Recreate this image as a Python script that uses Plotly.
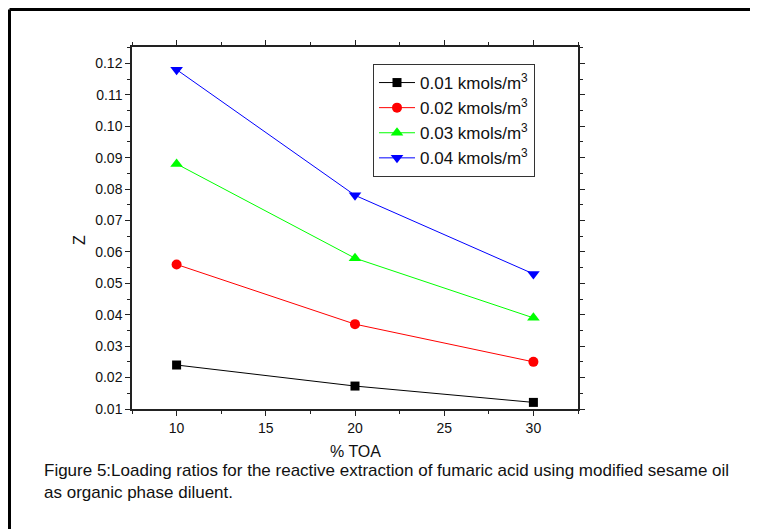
import plotly.graph_objects as go

x_toa = [10, 20, 30]
z_001 = [0.024, 0.0173, 0.0121]
z_002 = [0.056, 0.037, 0.025]
z_003 = [0.088, 0.058, 0.039]
z_004 = [0.118, 0.078, 0.053]
series_names = ["0.01 kmols/m<sup>3</sup>", "0.02 kmols/m<sup>3</sup>",
                "0.03 kmols/m<sup>3</sup>", "0.04 kmols/m<sup>3</sup>"]
x_title = "% TOA"
y_title = "Z"
caption = ("Figure 5:Loading ratios for the reactive extraction of fumaric acid using modified sesame oil"
           "<br>as organic phase diluent.")

colors = ["#000000", "#ff0000", "#00ff00", "#0000ff"]
symbols = ["square", "circle", "triangle-up", "triangle-down"]
sizes = [9, 10, 11, 11]

fig = go.Figure()
for name, ys, c, s, sz in zip(series_names, [z_001, z_002, z_003, z_004], colors, symbols, sizes):
    fig.add_trace(go.Scatter(x=x_toa, y=ys, name=name, mode="lines+markers",
                             line=dict(color=c, width=1),
                             marker=dict(symbol=s, size=sz, color=c)))

OFF = 8  # page body margin
W, H = 758 - OFF, 529 - OFF
# plot area in window pixels
L, R, T, B = 132, 578, 47, 409
pw, ph = R - L, B - T

def px(xw):
    return (xw - L) / pw

def py(yw):
    return (B - yw) / ph

FONT = "Liberation Sans, Arial"
axis_common = dict(showline=True, linecolor="#222222", linewidth=1.5, mirror="ticks",
                   ticks="outside", ticklen=5, tickwidth=1.2, tickcolor="#222222",
                   showgrid=False, zeroline=False,
                   tickfont=dict(family=FONT, size=14, color="#111111"))

fig.update_xaxes(range=[7.5, 32.5], tickvals=[10, 15, 20, 25, 30],
                 minor=dict(ticks="outside", ticklen=3, tickwidth=1.2, tickcolor="#222222",
                            tickvals=[7.5, 12.5, 17.5, 22.5, 27.5, 32.5]),
                 **axis_common)
fig.update_yaxes(range=[0.01, 0.1252],
                 tickvals=[0.01, 0.02, 0.03, 0.04, 0.05, 0.06, 0.07, 0.08, 0.09, 0.10, 0.11, 0.12],
                 ticktext=["0.01", "0.02", "0.03", "0.04", "0.05", "0.06", "0.07", "0.08", "0.09", "0.10", "0.11", "0.12"],
                 minor=dict(ticks="outside", ticklen=3, tickwidth=1.2, tickcolor="#222222",
                            tickvals=[0.015, 0.025, 0.035, 0.045, 0.055, 0.065, 0.075, 0.085,
                                      0.095, 0.105, 0.115, 0.125]),
                 **axis_common)

fig.update_layout(
    width=W, height=H,
    margin=dict(l=L - OFF, r=(758 - R), t=T - OFF, b=(529 - B), pad=0),
    paper_bgcolor="white", plot_bgcolor="white",
    showlegend=True,
    legend=dict(x=px(373), y=py(64), xanchor="left", yanchor="top",
                bordercolor="#333333", borderwidth=1, bgcolor="white",
                font=dict(family=FONT, size=17, color="#111111"),
                tracegroupgap=0, itemwidth=36),
    font=dict(family=FONT),
)

fig.add_annotation(text=x_title, xref="paper", yref="paper", x=px(355), y=py(451),
                   xanchor="center", yanchor="middle", showarrow=False,
                   font=dict(family=FONT, size=16, color="#111111"))
fig.add_annotation(text=y_title, xref="paper", yref="paper", x=px(79), y=py(240),
                   xanchor="center", yanchor="middle", showarrow=False, textangle=-90,
                   font=dict(family=FONT, size=16, color="#111111"))
fig.add_annotation(text=caption, xref="paper", yref="paper", x=px(42), y=py(459),
                   xanchor="left", yanchor="top", align="left", showarrow=False,
                   font=dict(family=FONT, size=17, color="#111111"))

# outer frame lines (top and left)
fig.add_shape(type="line", xref="paper", yref="paper", x0=px(9.5), x1=px(800), y0=py(9.5), y1=py(9.5),
              line=dict(color="black", width=3))
fig.add_shape(type="line", xref="paper", yref="paper", x0=px(9.5), x1=px(9.5), y0=py(9.5), y1=py(600),
              line=dict(color="black", width=3))

fig.write_html("out.html")
